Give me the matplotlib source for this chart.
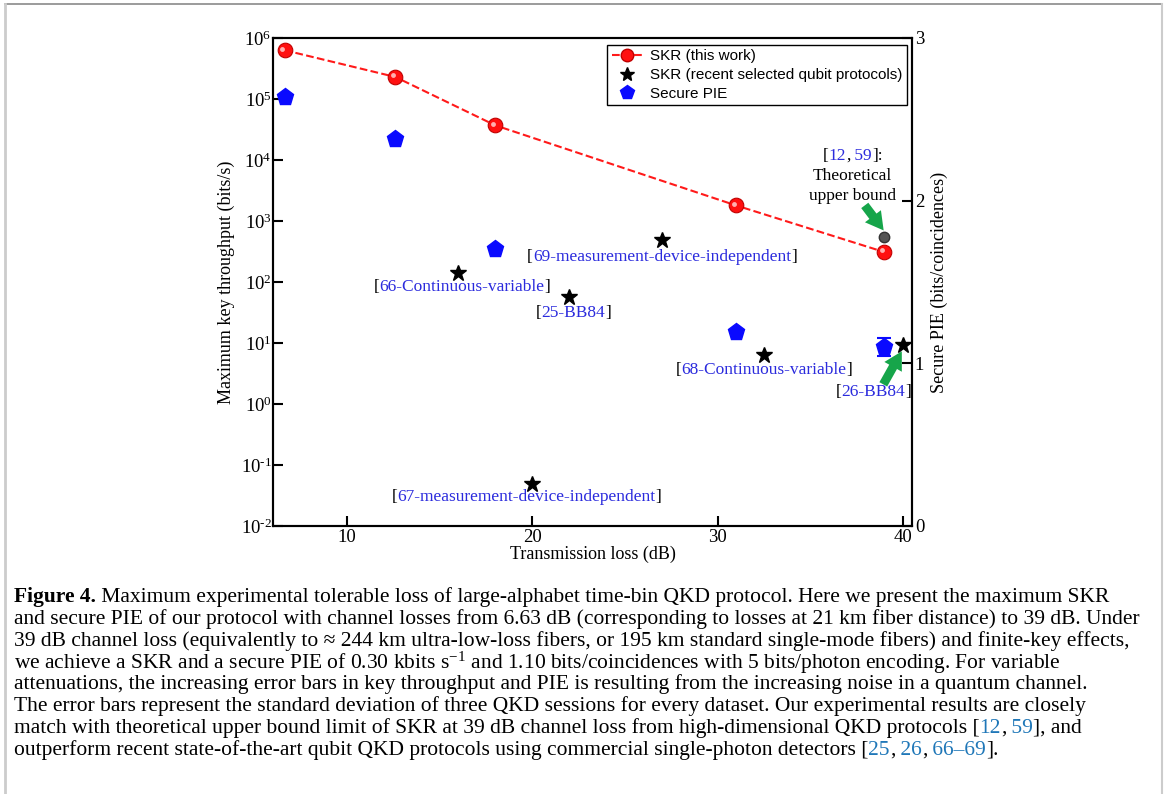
import numpy as np
import matplotlib
matplotlib.use('Agg')
import matplotlib.pyplot as plt
from matplotlib.lines import Line2D
from matplotlib.ticker import FuncFormatter
from matplotlib.offsetbox import TextArea, HPacker, VPacker, AnnotationBbox

plt.rcParams['font.family'] = ['Liberation Serif', 'DejaVu Serif']
plt.rcParams['mathtext.fontset'] = 'custom'
plt.rcParams['mathtext.rm'] = 'Liberation Serif'
plt.rcParams['mathtext.it'] = 'Liberation Serif:italic'

# SKR of this work (bits/s) vs channel loss (dB)
loss = [6.63, 12.6, 18.0, 31.0, 39.0]
skr = [6.3e5, 2.3e5, 3.7e4, 1.8e3, 3.1e2]
# secure PIE (bits/coincidences), right axis
pie = [2.64, 2.38, 1.70, 1.19, 1.10]
pie_err = [0, 0, 0, 0, 0.055]
# theoretical upper bound [12, 59]
bound_loss = [39.0]
bound_skr = [5.5e2]
# recent qubit protocols
ref_loss = [16.0, 22.0, 27.0, 32.5, 40.0, 20.0]
ref_skr = [1.4e2, 56, 4.9e2, 6.3, 9.4, 0.049]
ref_names = ['66-Continuous-variable', '25-BB84', '69-measurement-device-independent',
             '68-Continuous-variable', '26-BB84', '67-measurement-device-independent']
# label positions (loss, skr) for each reference
ref_lab_x = [16.2, 22.2, 27.0, 32.5, 38.4, 19.7]
ref_lab_y = [83, 31, 2.6e2, 3.6, 1.6, 0.030]

BLUE = '#2b2bdd'
CAP_BLUE = '#1f77b8'

fig = plt.figure(figsize=(11.66, 7.94), dpi=100)
ax = fig.add_axes([273/1166, 1-526/794, 639/1166, 488/794])
ax2 = ax.twinx()

ax.plot(loss, skr, '--', color='#ff1a1a', lw=1.5, zorder=3)
ax.plot(loss, skr, 'o', ms=10.5, mfc='#ff1010', mec='#c00000', mew=0.8, zorder=4)
ax.plot(np.array(loss) - 0.12, np.array(skr) * 1.06, 'o', ms=3.5, mfc='#ffb0b0', mec='none', zorder=5)
ax.plot(bound_loss, bound_skr, 'o', ms=7.5, mfc='#555555', mec='#333333', zorder=4)
ax.plot(ref_loss, ref_skr, '*', ms=12, color='black', zorder=4)

ax2.errorbar(loss, pie, yerr=pie_err, fmt='p', ms=12.5, color='#0a0aff', ecolor='#0a0aff',
             capsize=5, elinewidth=1.5, capthick=1.5, zorder=4)

ax.set_yscale('log')
ax.set_xlim(6.0, 40.5)
ax.set_ylim(1e-2, 1e6)
ax.set_xticks([10, 20, 30, 40])
ax.set_yticks([10.0 ** k for k in range(-2, 7)])
ax.yaxis.set_major_formatter(FuncFormatter(
    lambda v, p: '10$^{\\mathrm{%s}}$' % ('%d' % round(np.log10(v))).replace('-', '\u2010')))
ax.minorticks_off()
ax2.set_ylim(0, 3)
ax2.set_yticks([0, 1, 2, 3])

for a in (ax, ax2):
    a.tick_params(direction='in', length=7, width=1.5, labelsize=13.5, pad=2)
    for s in a.spines.values():
        s.set_linewidth(1.5)
ax.tick_params(axis='y', pad=1)

ax.set_xlabel('Transmission loss (dB)', fontsize=13, labelpad=0)
ax.set_ylabel('Maximum key throughput (bits/s)', fontsize=13, labelpad=4)
ax2.set_ylabel('Secure PIE (bits/coincidences)', fontsize=13, labelpad=5)

# legend
handles = [Line2D([], [], ls='--', color='#ff1a1a', marker='o', ms=9, mfc='#ff1010', mec='#c00000'),
           Line2D([], [], ls='none', marker='*', ms=10, color='black'),
           Line2D([], [], ls='none', marker='p', ms=10, color='#0a0aff')]
labels = ['SKR (this work)', 'SKR (recent selected qubit protocols)', 'Secure PIE']
leg = ax.legend(handles, labels, loc='upper right', bbox_to_anchor=(0.992, 0.986), borderaxespad=0,
                prop={'family': 'Liberation Sans', 'size': 11}, fancybox=False, edgecolor='black',
                handlelength=2.0, handletextpad=0.5, borderpad=0.3, labelspacing=0.3, framealpha=1)
leg.get_frame().set_linewidth(1.0)


def bracket_label(axis, x, y, inner, size=12.5):
    parts = [TextArea('[', textprops=dict(color='black', size=size)),
             TextArea(inner, textprops=dict(color=BLUE, size=size)),
             TextArea(']', textprops=dict(color='black', size=size))]
    box = HPacker(children=parts, align='baseline', pad=0, sep=0)
    axis.add_artist(AnnotationBbox(box, (x, y), xycoords='data', frameon=False, pad=0,
                                   box_alignment=(0.5, 0.5), zorder=6))


for name, lx, ly in zip(ref_names, ref_lab_x, ref_lab_y):
    bracket_label(ax, lx, ly, name)

# theoretical upper bound label
tp = dict(color='black', size=12.5)
row1 = HPacker(children=[TextArea('[', textprops=tp), TextArea('12', textprops=dict(color=BLUE, size=12.5)),
                         TextArea(',', textprops=tp), TextArea(' 59', textprops=dict(color=BLUE, size=12.5)),
                         TextArea(']:', textprops=tp)], align='baseline', pad=0, sep=0)
col = VPacker(children=[row1, TextArea('Theoretical', textprops=tp), TextArea('upper bound', textprops=tp)],
              align='center', pad=0, sep=3)
ax.add_artist(AnnotationBbox(col, (37.3, 10 ** 3.74), xycoords='data', frameon=False, pad=0,
                             box_alignment=(0.5, 0.5)))

arrow = dict(arrowstyle='simple,head_length=0.8,head_width=0.9,tail_width=0.4', color='#16a54a', lw=0,
             mutation_scale=16, shrinkA=0, shrinkB=0)
ax.annotate('', xy=(38.97, 7.0e2), xytext=(37.95, 1.8e3), arrowprops=arrow, zorder=6)
ax.annotate('', xy=(39.95, 7.3), xytext=(38.95, 2.1), arrowprops=arrow, zorder=6)

# caption
cs = 15.5
reg = dict(color='black', size=cs)
blu = dict(color=CAP_BLUE, size=cs)
caption = [
    [('Figure 4.', dict(color='black', size=cs, weight='bold')),
     (' Maximum experimental tolerable loss of large-alphabet time-bin QKD protocol. Here we present the maximum SKR', reg)],
    [('and secure PIE of our protocol with channel losses from 6.63 dB (corresponding to losses at 21 km fiber distance) to 39 dB. Under', reg)],
    [('39 dB channel loss (equivalently to \u2248 244 km ultra-low-loss fibers, or 195 km standard single-mode fibers) and finite-key effects,', reg)],
    [('we achieve a SKR and a secure PIE of 0.30 kbits s$^{-1}$ and 1.10 bits/coincidences with 5 bits/photon encoding. For variable', reg)],
    [('attenuations, the increasing error bars in key throughput and PIE is resulting from the increasing noise in a quantum channel.', reg)],
    [('The error bars represent the standard deviation of three QKD sessions for every dataset. Our experimental results are closely', reg)],
    [('match with theoretical upper bound limit of SKR at 39 dB channel loss from high-dimensional QKD protocols [', reg),
     ('12', blu), (',', reg), (' 59', blu), ('], and', reg)],
    [('outperform recent state-of-the-art qubit QKD protocols using commercial single-photon detectors [', reg),
     ('25', blu), (',', reg), (' 26', blu), (',', reg), (' 66\u201369', blu), (('].'), reg)],
]
y0 = 597
for i, line in enumerate(caption):
    box = HPacker(children=[TextArea(t, textprops=p) for t, p in line], align='baseline', pad=0, sep=0)
    fig.add_artist(AnnotationBbox(box, (14, 794 - (y0 + i * 21.8)), xycoords='figure pixels',
                                  frameon=False, pad=0, box_alignment=(0, 0.5)))

# outer frame
fig.add_artist(Line2D([5 / 1166, 1162 / 1166], [1 - 4 / 794, 1 - 4 / 794], color='#8a8a8a', lw=1.2,
                      transform=fig.transFigure))
fig.add_artist(Line2D([5 / 1166, 5 / 1166], [0, 1 - 4 / 794], color='#cccccc', lw=2,
                      transform=fig.transFigure))
fig.add_artist(Line2D([1162 / 1166, 1162 / 1166], [0, 1 - 4 / 794], color='#cccccc', lw=1.5,
                      transform=fig.transFigure))

fig.savefig('out.png', dpi=100)
